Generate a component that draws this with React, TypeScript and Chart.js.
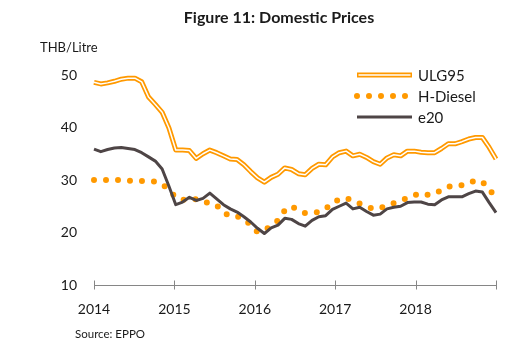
import React, { useEffect, useRef } from 'react';
import { Chart, registerables } from 'chart.js';

Chart.register(...registerables);

// ---- data ----
const years = ['2014', '2015', '2016', '2017', '2018'];
const monthNames = ['Jan', 'Feb', 'Mar', 'Apr', 'May', 'Jun', 'Jul', 'Aug', 'Sep', 'Oct', 'Nov', 'Dec'];
const months = years.flatMap((y) => monthNames.map((m) => `${m} ${y}`));
const yearAxisMin = 2014;
const yearAxisMax = 2019;
const yMin = 10;
const yMax = 50;
const yStep = 10;

const ulg95 = [
  48.6, 48.3, 48.5, 48.8, 49.2, 49.4, 49.4, 48.7, 45.8, 44.4, 42.9, 39.9,
  35.7, 35.7, 35.6, 34.1, 35.0, 35.7, 35.2, 34.6, 34.0, 33.9, 32.9, 31.6,
  30.4, 29.6, 30.5, 31.1, 32.3, 32.0, 31.2, 31.0, 32.2, 33.0, 32.9, 34.4,
  35.2, 35.5, 34.6, 34.9, 34.3, 33.5, 33.0, 34.2, 34.8, 34.6, 35.5, 35.5,
  35.3, 35.2, 35.2, 36.0, 36.9, 36.9, 37.3, 37.8, 38.1, 38.1, 36.2, 34.0,
];

const hDiesel = [
  30.0, 30.0, 30.0, 30.0, 30.0, 29.9, 29.8, 29.8, 29.8, 29.7, 29.2, 28.1,
  26.7, 26.2, 26.4, 26.3, 25.7, 25.7, 25.2, 23.8, 23.1, 23.1, 22.6, 21.4,
  20.1, 20.4, 21.3, 22.3, 24.2, 25.0, 24.2, 23.7, 23.7, 23.9, 24.5, 25.7,
  26.3, 26.6, 26.0, 25.5, 25.0, 24.5, 24.6, 25.2, 25.6, 26.0, 26.6, 27.1,
  27.5, 27.2, 27.3, 28.1, 28.7, 29.0, 29.0, 29.5, 29.9, 29.7, 28.0, 27.0,
];

const e20 = [
  35.9, 35.4, 35.8, 36.1, 36.2, 36.0, 35.8, 35.2, 34.4, 33.6, 32.1, 28.8,
  25.3, 25.8, 26.7, 26.1, 26.5, 27.5, 26.4, 25.3, 24.5, 23.9, 23.0, 22.0,
  20.8, 19.8, 20.9, 21.4, 22.7, 22.5, 21.7, 21.2, 22.3, 23.0, 23.2, 24.4,
  25.0, 25.6, 24.5, 24.8, 24.0, 23.3, 23.5, 24.5, 24.8, 25.0, 25.7, 25.8,
  25.8, 25.4, 25.3, 26.2, 26.8, 26.8, 26.8, 27.4, 27.9, 27.7, 25.7, 23.8,
];

const titleText = 'Figure 11: Domestic Prices';
const unitText = 'THB/Litre';
const sourceText = 'Source: EPPO';

// ---- styles ----
const ORANGE = '#FF9900';
const DARK = '#4E4546';
const TEXT = '#1a1a1a';
const AXIS = '#868686';
const FONT = 'Lato, "Open Sans", sans-serif';

const decorPlugin = {
  id: 'decor',
  afterDraw(chart: any) {
    const ctx = chart.ctx as CanvasRenderingContext2D;
    const area = chart.chartArea;
    ctx.save();

    // title
    ctx.fillStyle = TEXT;
    ctx.font = `bold 16px ${FONT}`;
    ctx.textAlign = 'center';
    ctx.textBaseline = 'middle';
    ctx.fillText(titleText, 279, 18);

    // unit label
    ctx.font = `13px ${FONT}`;
    ctx.textAlign = 'left';
    ctx.fillText(unitText, 40, 48);

    // source
    ctx.font = `11.5px ${FONT}`;
    ctx.fillText(sourceText, 75, 334);

    // x-axis cross tick marks at each year
    const ys = chart.scales.xYear;
    ctx.strokeStyle = AXIS;
    ctx.lineWidth = 1;
    for (let v = yearAxisMin; v <= yearAxisMax; v++) {
      const px = Math.round(ys.getPixelForValue(v)) + 0.5;
      ctx.beginPath();
      ctx.moveTo(px, area.bottom - 4.5);
      ctx.lineTo(px, area.bottom + 4.5);
      ctx.stroke();
    }

    // legend
    const items = [
      { idx: 0, inner: 1, text: 'ULG95' },
      { idx: 2, inner: -1, text: 'H-Diesel' },
      { idx: 3, inner: -1, text: 'e20' },
    ];
    const x0 = 357;
    const x1 = 412;
    const rowY = [75, 96, 117];
    items.forEach((it, r) => {
      const ds = chart.data.datasets[it.idx];
      const y = rowY[r];
      ctx.save();
      ctx.strokeStyle = ds.borderColor;
      ctx.lineWidth = ds.borderWidth;
      ctx.lineCap = ds.borderCapStyle || 'butt';
      ctx.setLineDash(ds.borderDash || []);
      ctx.beginPath();
      ctx.moveTo(x0, y);
      ctx.lineTo(x1, y);
      ctx.stroke();
      if (it.inner >= 0) {
        const inner = chart.data.datasets[it.inner];
        ctx.strokeStyle = inner.borderColor;
        ctx.lineWidth = inner.borderWidth;
        ctx.beginPath();
        ctx.moveTo(x0 + 1.5, y);
        ctx.lineTo(x1 - 1.5, y);
        ctx.stroke();
      }
      ctx.restore();
      ctx.fillStyle = TEXT;
      ctx.font = `15px ${FONT}`;
      ctx.textAlign = 'left';
      ctx.textBaseline = 'middle';
      ctx.fillText(it.text, 418, y + 1);
    });

    ctx.restore();
  },
};

export default function App() {
  const canvasRef = useRef<HTMLCanvasElement | null>(null);

  useEffect(() => {
    document.body.style.margin = '0';
    const canvas = canvasRef.current;
    if (!canvas) return;

    const common = {
      pointRadius: 0,
      pointHoverRadius: 0,
      tension: 0,
      fill: false,
      borderJoinStyle: 'round' as const,
    };

    const chart = new Chart(canvas, {
      type: 'line',
      data: {
        labels: months,
        datasets: [
          { ...common, label: 'ULG95', data: ulg95, borderColor: ORANGE, borderWidth: 5, order: 2 },
          { ...common, label: 'ULG95 inner', data: ulg95, borderColor: '#ffffff', borderWidth: 1.5, order: 1 },
          {
            ...common,
            label: 'H-Diesel',
            data: hDiesel,
            borderColor: ORANGE,
            borderWidth: 6,
            borderDash: [0, 12],
            borderCapStyle: 'round',
            order: 3,
          },
          { ...common, label: 'e20', data: e20, borderColor: DARK, borderWidth: 3, order: 0 },
        ],
      },
      options: {
        animation: false,
        responsive: false,
        maintainAspectRatio: false,
        events: [],
        layout: { padding: { top: 75, right: 24, bottom: 0, left: 0 } },
        plugins: {
          legend: { display: false },
          tooltip: { enabled: false },
          title: { display: false },
        },
        scales: {
          x: {
            type: 'category',
            display: false,
            offset: false,
          },
          xYear: {
            type: 'linear',
            position: 'bottom',
            min: yearAxisMin,
            max: yearAxisMax,
            grid: { display: false, drawTicks: false },
            border: { display: true, color: AXIS, width: 1 },
            ticks: {
              stepSize: 1,
              padding: 16,
              color: TEXT,
              font: { family: FONT, size: 14 },
              autoSkip: false,
              maxRotation: 0,
              callback: (v: any) => (Number(v) < yearAxisMax ? String(v) : ''),
            },
            afterFit: (s: any) => {
              s.height = 65;
            },
          },
          y: {
            type: 'linear',
            min: yMin,
            max: yMax,
            grid: { display: false, drawTicks: false },
            border: { display: false },
            ticks: {
              stepSize: yStep,
              padding: 17,
              color: TEXT,
              font: { family: FONT, size: 14 },
            },
            afterFit: (s: any) => {
              s.width = 94;
            },
          },
        },
      },
      plugins: [decorPlugin],
    });

    return () => chart.destroy();
  }, []);

  return (
    <div style={{ width: 520, height: 350, background: '#ffffff' }}>
      <canvas ref={canvasRef} width={520} height={350} style={{ display: 'block' }} />
    </div>
  );
}
